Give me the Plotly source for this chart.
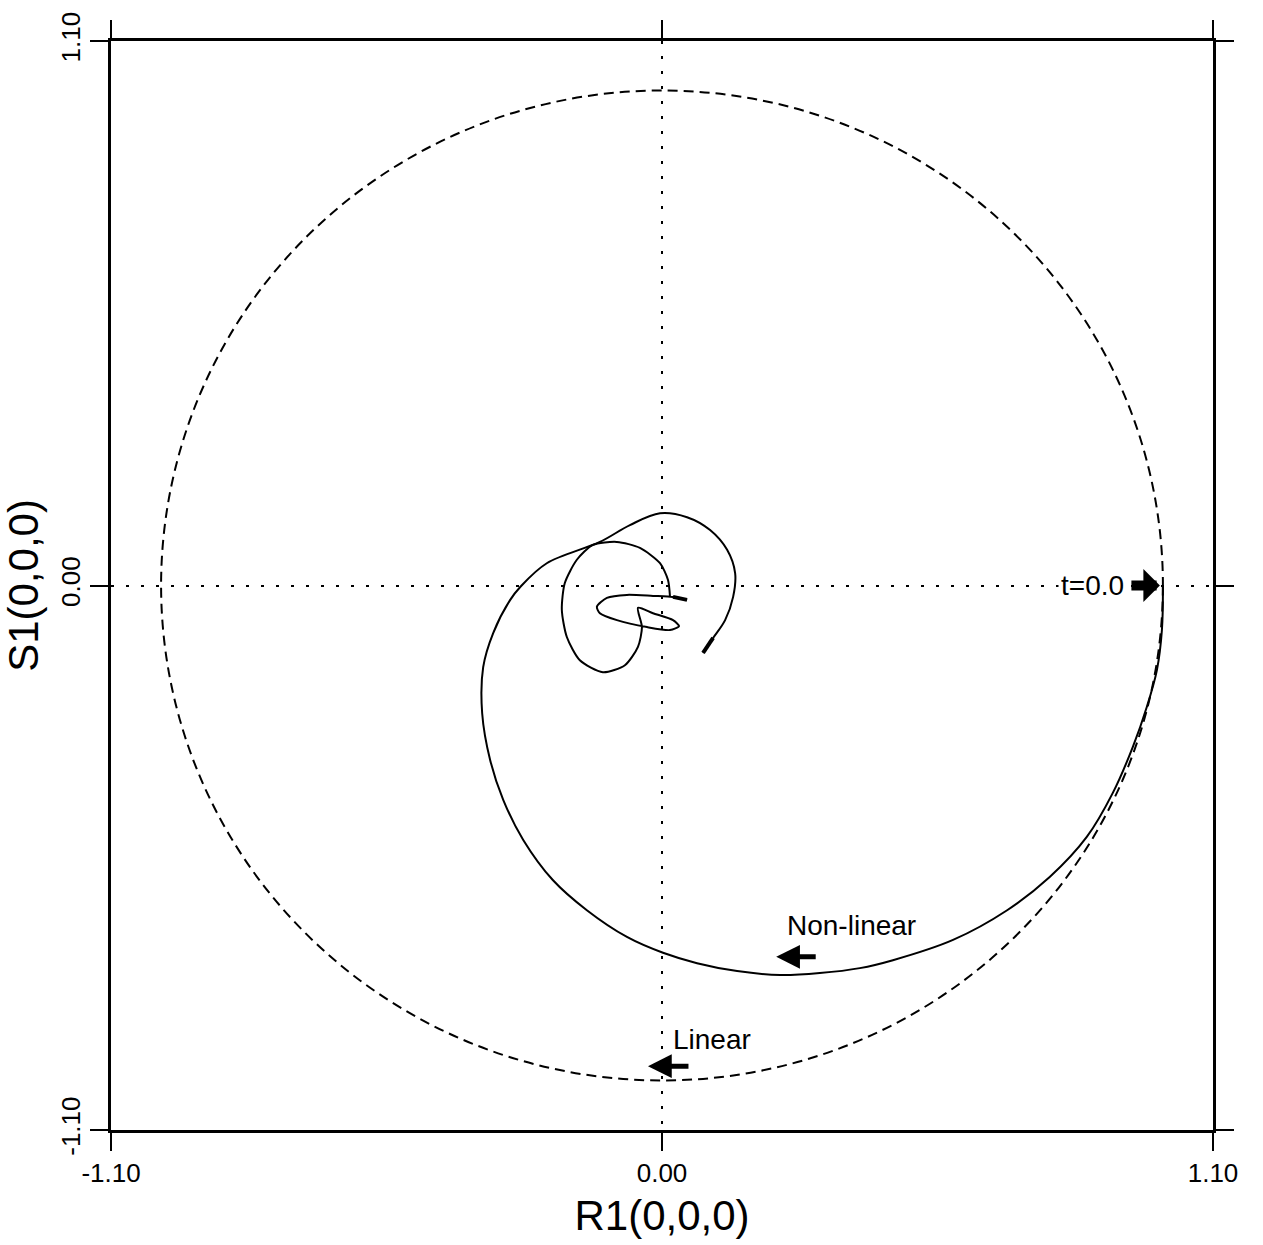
import plotly.graph_objects as go

# ---- data ----
tick_vals = [-1.10, 0.0, 1.10]
tick_text = ["-1.10", "0.00", "1.10"]
linear_radius = 1.0

# Non-linear trajectory, outer spiral (starts at t=0.0 on the right)
nl_outer_r1 = [1.000, 0.998, 0.988, 0.968, 0.940, 0.900, 0.848, 0.774, 0.689, 0.581,
               0.461, 0.395, 0.315, 0.236, 0.150, 0.070, 0.002, -0.070, -0.150, -0.218,
               -0.277, -0.317, -0.343, -0.359, -0.357, -0.337, -0.303, -0.283, -0.230, -0.124,
               -0.064, -0.004, 0.050, 0.096, 0.130, 0.146, 0.142, 0.126, 0.102, 0.082]
nl_outer_s1 = [0.000, -0.090, -0.171, -0.245, -0.326, -0.419, -0.508, -0.589, -0.656, -0.716,
               -0.757, -0.773, -0.783, -0.787, -0.779, -0.763, -0.742, -0.710, -0.656, -0.595,
               -0.514, -0.433, -0.353, -0.258, -0.165, -0.096, -0.029, -0.003, 0.045, 0.088,
               0.122, 0.146, 0.138, 0.112, 0.072, 0.025, -0.023, -0.070, -0.106, -0.136]

# Non-linear trajectory, inner loops near the origin
nl_inner_r1 = [0.016, 0.012, -0.004, -0.044, -0.090, -0.138, -0.170, -0.194, -0.200, -0.190,
               -0.164, -0.118, -0.074, -0.048, -0.040, -0.048, -0.018, 0.022, 0.034, 0.016,
               -0.030, -0.090, -0.124, -0.130, -0.110, -0.070, -0.018, 0.022, 0.050]
nl_inner_s1 = [-0.023, 0.011, 0.045, 0.076, 0.088, 0.082, 0.052, 0.005, -0.049, -0.104,
               -0.151, -0.175, -0.161, -0.124, -0.084, -0.045, -0.056, -0.070, -0.082, -0.090,
               -0.084, -0.070, -0.056, -0.043, -0.025, -0.019, -0.021, -0.023, -0.029]

# label / arrow anchor positions (data units)
t0_label = (0.86, 0.0)
t0_head = (0.994, 0.0)
nonlinear_label = (0.379, -0.686)
nonlinear_head = (0.228, -0.750)
linear_label = (0.100, -0.918)
linear_head = (-0.028, -0.971)

FONT = "Liberation Sans, Arial, Helvetica, sans-serif"

fig = go.Figure()

# linear solution: dashed unit circle
fig.add_shape(type="circle", xref="x", yref="y",
              x0=-linear_radius, y0=-linear_radius, x1=linear_radius, y1=linear_radius,
              line=dict(color="black", width=2, dash="10px,6px"))

fig.add_trace(go.Scatter(x=nl_outer_r1, y=nl_outer_s1, mode="lines",
                         line=dict(color="black", width=2, shape="spline", smoothing=1.0),
                         showlegend=False, hoverinfo="skip"))
fig.add_trace(go.Scatter(x=nl_inner_r1, y=nl_inner_s1, mode="lines",
                         line=dict(color="black", width=2, shape="spline", smoothing=0.7),
                         showlegend=False, hoverinfo="skip"))
# heavier strokes at the two ends of the trajectory
fig.add_trace(go.Scatter(x=nl_outer_r1[-2:], y=nl_outer_s1[-2:], mode="lines",
                         line=dict(color="black", width=4),
                         showlegend=False, hoverinfo="skip"))
fig.add_trace(go.Scatter(x=nl_inner_r1[-2:], y=nl_inner_s1[-2:], mode="lines",
                         line=dict(color="black", width=4),
                         showlegend=False, hoverinfo="skip"))

# annotations
fig.add_annotation(x=t0_label[0], y=t0_label[1], text="t=0.0", showarrow=False,
                   bgcolor="white", borderpad=2,
                   font=dict(family=FONT, size=28, color="black"))
fig.add_annotation(x=t0_head[0], y=t0_head[1], ax=-30, ay=0, text="", showarrow=True,
                   arrowhead=1, arrowsize=0.55, arrowwidth=10, arrowcolor="black", standoff=0)
fig.add_annotation(x=nonlinear_label[0], y=nonlinear_label[1], text="Non-linear", showarrow=False,
                   font=dict(family=FONT, size=28, color="black"))
fig.add_annotation(x=nonlinear_head[0], y=nonlinear_head[1], ax=41, ay=0, text="", showarrow=True,
                   arrowhead=2, arrowsize=0.95, arrowwidth=5, arrowcolor="black", standoff=0)
fig.add_annotation(x=linear_label[0], y=linear_label[1], text="Linear", showarrow=False,
                   font=dict(family=FONT, size=28, color="black"))
fig.add_annotation(x=linear_head[0], y=linear_head[1], ax=42, ay=0, text="", showarrow=True,
                   arrowhead=2, arrowsize=0.95, arrowwidth=5, arrowcolor="black", standoff=0)

axis_common = dict(
    range=[-1.1, 1.1], tickmode="array", tickvals=tick_vals, ticktext=tick_text,
    ticks="outside", ticklen=18, tickwidth=1.5, tickcolor="black",
    showline=True, linewidth=2.5, linecolor="black", mirror="ticks",
    showgrid=True, gridcolor="black", gridwidth=1.5, griddash="3px,12px",
    zeroline=False, automargin=False,
    tickfont=dict(family=FONT, size=26, color="black"),
)

fig.update_xaxes(**axis_common,
                 title=dict(text="R1(0,0,0)", font=dict(family=FONT, size=42, color="black"),
                            standoff=14))
fig.update_yaxes(**axis_common, tickangle=-90,
                 title=dict(text="S1(0,0,0)", font=dict(family=FONT, size=42, color="black"),
                            standoff=6))

fig.update_layout(
    width=1263, height=1245,
    margin=dict(l=111, r=50, t=41, b=115),
    paper_bgcolor="white", plot_bgcolor="white",
    showlegend=False,
)

fig.write_html("out.html")
